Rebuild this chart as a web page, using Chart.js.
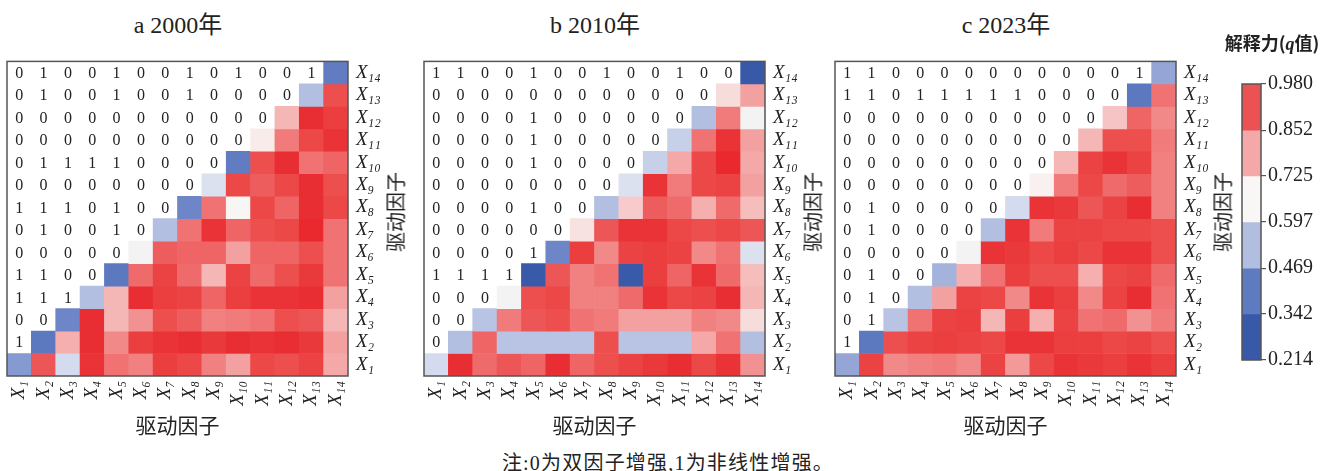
<!DOCTYPE html>
<html>
<head>
<meta charset="utf-8">
<script src="https://cdn.jsdelivr.net/npm/chart.js@4.4.1/dist/chart.umd.min.js"></script>
<style>
  body { margin: 0; width: 1337px; height: 471px; background: #fff; position: relative; overflow: hidden;
         font-family: "Liberation Serif", "Noto Sans CJK SC", serif; color: #222; }
  .box { position: absolute; }
  .ttl { position: absolute; top: 5px; font-size: 24px; transform: translateX(-50%); white-space: nowrap; }
  .ytl { position: absolute; font-family: "Noto Sans CJK SC", sans-serif; font-size: 20px;
         transform: translate(-50%, -50%) rotate(-90deg); white-space: nowrap; }
  .cbt { position: absolute; left: 1272px; top: 42px; transform: translate(-50%, -50%);
         font-family: "Noto Sans CJK SC", sans-serif; font-weight: bold; font-size: 18px; white-space: nowrap; }
  .cbt i { font-family: "Liberation Serif", serif; }
  .note { position: absolute; left: 668px; top: 461px; transform: translate(-50%, -50%);
          font-size: 20px; letter-spacing: 1.2px; white-space: nowrap; }
</style>
</head>
<body>
<div class="ttl" style="left:178px">a 2000年</div>
<div class="ttl" style="left:595px">b 2010年</div>
<div class="ttl" style="left:1006px">c 2023年</div>

<div class="box" style="left:5px;top:42px;width:393px;height:396px"><canvas id="cA"></canvas></div>
<div class="box" style="left:422px;top:42px;width:393px;height:396px"><canvas id="cB"></canvas></div>
<div class="box" style="left:833px;top:42px;width:393px;height:396px"><canvas id="cC"></canvas></div>
<div class="box" style="left:1240px;top:70px;width:97px;height:304px"><canvas id="cBar"></canvas></div>

<div class="ytl" style="left:395px;top:212px">驱动因子</div>
<div class="ytl" style="left:812px;top:212px">驱动因子</div>
<div class="ytl" style="left:1222px;top:212px">驱动因子</div>
<div class="cbt">解释力(<i>q</i>值)</div>
<div class="note">注:0为双因子增强,1为非线性增强。</div>

<script>
const factors = ['X1', 'X2', 'X3', 'X4', 'X5', 'X6', 'X7', 'X8', 'X9', 'X10', 'X11', 'X12', 'X13', 'X14'];

// q of Xi ∩ Xj, row Xi from column Xi to X14 (estimated from the colours)
const qA = [
  [0.46, 0.89, 0.57, 0.95, 0.85, 0.83, 0.93, 0.91, 0.83, 0.79, 0.91, 0.90, 0.92, 0.78],
  [0.40, 0.77, 0.96, 0.82, 0.93, 0.95, 0.96, 0.94, 0.96, 0.95, 0.96, 0.94, 0.79],
  [0.43, 0.96, 0.76, 0.81, 0.90, 0.88, 0.83, 0.84, 0.85, 0.90, 0.89, 0.76],
  [0.52, 0.76, 0.96, 0.93, 0.92, 0.87, 0.93, 0.95, 0.95, 0.96, 0.79],
  [0.40, 0.86, 0.92, 0.86, 0.76, 0.92, 0.86, 0.90, 0.94, 0.85],
  [0.64, 0.88, 0.87, 0.87, 0.79, 0.87, 0.87, 0.90, 0.85],
  [0.52, 0.85, 0.95, 0.87, 0.90, 0.91, 0.97, 0.85],
  [0.43, 0.85, 0.65, 0.91, 0.87, 0.96, 0.91],
  [0.58, 0.91, 0.88, 0.91, 0.96, 0.90],
  [0.41, 0.90, 0.96, 0.85, 0.87],
  [0.67, 0.84, 0.91, 0.95],
  [0.76, 0.96, 0.93],
  [0.52, 0.90],
  [0.41]
];
const qB = [
  [0.57, 0.96, 0.86, 0.89, 0.87, 0.96, 0.87, 0.90, 0.92, 0.94, 0.96, 0.91, 0.95, 0.81],
  [0.52, 0.87, 0.53, 0.53, 0.53, 0.53, 0.90, 0.53, 0.53, 0.53, 0.78, 0.85, 0.52],
  [0.53, 0.84, 0.89, 0.90, 0.85, 0.84, 0.79, 0.79, 0.79, 0.83, 0.82, 0.70],
  [0.64, 0.90, 0.91, 0.83, 0.83, 0.86, 0.95, 0.91, 0.92, 0.96, 0.76],
  [0.26, 0.89, 0.83, 0.85, 0.26, 0.93, 0.87, 0.95, 0.86, 0.75],
  [0.43, 0.93, 0.82, 0.92, 0.93, 0.92, 0.82, 0.85, 0.58],
  [0.69, 0.89, 0.95, 0.95, 0.91, 0.90, 0.91, 0.89],
  [0.52, 0.73, 0.88, 0.86, 0.77, 0.86, 0.75],
  [0.58, 0.95, 0.84, 0.91, 0.92, 0.79],
  [0.55, 0.78, 0.91, 0.97, 0.78],
  [0.55, 0.85, 0.95, 0.79],
  [0.52, 0.84, 0.64],
  [0.70, 0.79],
  [0.25]
];
const qC = [
  [0.48, 0.92, 0.82, 0.83, 0.84, 0.82, 0.92, 0.80, 0.91, 0.95, 0.94, 0.93, 0.95, 0.93],
  [0.40, 0.90, 0.92, 0.93, 0.92, 0.91, 0.95, 0.95, 0.93, 0.93, 0.91, 0.92, 0.90],
  [0.53, 0.85, 0.92, 0.93, 0.76, 0.93, 0.77, 0.92, 0.85, 0.86, 0.81, 0.84],
  [0.52, 0.79, 0.92, 0.91, 0.82, 0.95, 0.93, 0.82, 0.92, 0.96, 0.85],
  [0.50, 0.77, 0.85, 0.93, 0.90, 0.90, 0.77, 0.91, 0.92, 0.86],
  [0.64, 0.95, 0.94, 0.91, 0.93, 0.91, 0.95, 0.95, 0.90],
  [0.52, 0.95, 0.84, 0.92, 0.92, 0.91, 0.91, 0.90],
  [0.57, 0.95, 0.94, 0.89, 0.92, 0.96, 0.83],
  [0.66, 0.84, 0.91, 0.86, 0.88, 0.83],
  [0.76, 0.92, 0.95, 0.92, 0.83],
  [0.76, 0.90, 0.90, 0.84],
  [0.74, 0.87, 0.82],
  [0.40, 0.85],
  [0.48]
];

// interaction type, row X2..X14, columns X1..X(j-1)
const sigA = [
  [1],
  [0, 0],
  [1, 1, 1],
  [1, 1, 0, 0],
  [0, 0, 0, 0, 0],
  [0, 1, 0, 0, 1, 0],
  [1, 1, 1, 0, 1, 0, 0],
  [0, 0, 0, 0, 0, 0, 0, 0],
  [0, 1, 1, 1, 1, 0, 0, 0, 0],
  [0, 0, 0, 0, 0, 0, 0, 0, 0, 0],
  [0, 0, 0, 0, 0, 0, 0, 0, 0, 0, 0],
  [0, 1, 0, 0, 1, 0, 0, 1, 0, 0, 0, 0],
  [0, 1, 0, 0, 1, 0, 0, 1, 0, 1, 0, 0, 1]
];
const sigB = [
  [0],
  [0, 0],
  [0, 0, 0],
  [1, 1, 1, 1],
  [0, 0, 0, 0, 1],
  [0, 0, 0, 0, 0, 0],
  [0, 0, 0, 0, 1, 0, 0],
  [0, 0, 0, 0, 0, 0, 0, 0],
  [0, 0, 0, 0, 1, 0, 0, 0, 0],
  [0, 0, 0, 0, 1, 0, 0, 0, 0, 0],
  [0, 0, 0, 0, 1, 0, 0, 0, 0, 0, 0],
  [0, 0, 0, 0, 0, 0, 0, 0, 0, 0, 0, 0],
  [1, 1, 0, 0, 1, 0, 0, 1, 0, 0, 1, 0, 0]
];
const sigC = [
  [1],
  [0, 1],
  [0, 1, 0],
  [0, 1, 0, 0],
  [0, 0, 0, 0, 0],
  [0, 1, 0, 0, 0, 0],
  [0, 1, 0, 0, 0, 0, 0],
  [0, 0, 0, 0, 0, 0, 0, 0],
  [0, 0, 0, 0, 0, 0, 0, 0, 0],
  [0, 0, 0, 0, 0, 0, 0, 0, 0, 0],
  [0, 0, 0, 0, 0, 0, 0, 0, 0, 0, 0],
  [1, 1, 0, 1, 1, 1, 1, 1, 0, 0, 0, 0],
  [1, 1, 0, 0, 0, 0, 0, 0, 0, 0, 0, 0, 1]
];

const cbTicks = [0.214, 0.342, 0.469, 0.597, 0.725, 0.852, 0.980];
const cbColors = ['#3859a8', '#5d7bc0', '#b2bee0', '#f8f7f5', '#f5a8a8', '#ec5252'];

const cmapStops = [
  [0.214, [53, 87, 166]], [0.34, [63, 95, 174]], [0.42, [102, 128, 196]], [0.50, [164, 179, 220]],
  [0.58, [220, 225, 240]], [0.65, [248, 246, 244]], [0.72, [247, 210, 210]], [0.78, [244, 168, 168]],
  [0.85, [240, 114, 114]], [0.91, [236, 72, 72]], [0.98, [232, 36, 42]]
];
const cmap = v => {
  for (let i = 1; i < cmapStops.length; i++) {
    const [v1, c1] = cmapStops[i], [v0, c0] = cmapStops[i - 1];
    if (v <= v1 || i === cmapStops.length - 1) {
      const t = Math.max(0, Math.min(1, (v - v0) / (v1 - v0)));
      return `rgb(${c0.map((c, k) => Math.round(c + (c1[k] - c) * t)).join(',')})`;
    }
  }
};

const subs = '₀₁₂₃₄₅₆₇₈₉';
const tickText = f => 'X' + f.slice(1).split('').map(d => subs[d]).join('');

const matrixText = {
  id: 'matrixText',
  afterDatasetsDraw(chart, args, opts) {
    const { ctx, chartArea: a, scales: { x, y } } = chart;
    ctx.save();
    ctx.font = '16px "Liberation Serif"';
    ctx.fillStyle = '#222';
    ctx.textAlign = 'center';
    ctx.textBaseline = 'middle';
    (opts.sig || []).forEach((row, r) => row.forEach((v, c) => {
      ctx.fillText(String(v), x.getPixelForValue(c), y.getPixelForValue(r + 2) + 1);
    }));
    ctx.strokeStyle = '#555';
    ctx.lineWidth = 1.5;
    ctx.strokeRect(a.left, a.top, a.width, a.height);
    ctx.restore();
  }
};

const makeHeat = (id, q, sig) => {
  const cells = [];
  q.forEach((row, i) => row.forEach((v, k) => {
    cells.push({ x: factors[i + k], y: [i + 0.5, i + 1.5], q: v });
  }));
  new Chart(document.getElementById(id), {
    type: 'bar',
    data: {
      labels: factors,
      datasets: [{
        data: cells,
        backgroundColor: c => c.raw ? cmap(c.raw.q) : 'transparent',
        borderWidth: 0,
        barPercentage: 1,
        categoryPercentage: 1
      }]
    },
    options: {
      responsive: true,
      maintainAspectRatio: false,
      animation: false,
      layout: { autoPadding: false, padding: { left: 2, top: 2, right: 0, bottom: 0 } },
      plugins: { legend: { display: false }, tooltip: { enabled: false }, matrixText: { sig } },
      scales: {
        x: {
          type: 'category',
          grid: { display: false, drawTicks: false },
          border: { display: false },
          afterFit: s => { s.height = 62; },
          ticks: {
            autoSkip: false, minRotation: 90, maxRotation: 90, padding: 5,
            color: '#222', font: { family: '"Liberation Serif"', style: 'italic', size: 19 },
            callback: (v, i) => tickText(factors[i])
          },
          title: {
            display: true, text: '驱动因子', color: '#222', padding: 0,
            font: { family: '"Noto Sans CJK SC"', size: 21, lineHeight: 1.2 }
          }
        },
        y: {
          type: 'linear', position: 'right', min: 0.5, max: 14.5,
          grid: { display: false, drawTicks: false },
          border: { display: false },
          afterFit: s => { s.width = 50; },
          afterBuildTicks: s => { s.ticks = factors.map((f, i) => ({ value: i + 1 })); },
          ticks: {
            autoSkip: false, padding: 8, color: '#222',
            font: { family: '"Liberation Serif"', style: 'italic', size: 19 },
            callback: v => tickText(factors[v - 1])
          }
        }
      }
    },
    plugins: [matrixText]
  });
};

makeHeat('cA', qA, sigA);
makeHeat('cB', qB, sigB);
makeHeat('cC', qC, sigC);

new Chart(document.getElementById('cBar'), {
  type: 'bar',
  data: {
    labels: ['q'],
    datasets: [{
      data: cbColors.map((c, i) => ({ x: 'q', y: [cbTicks[i], cbTicks[i + 1]] })),
      backgroundColor: cbColors,
      borderWidth: 0,
      barPercentage: 1,
      categoryPercentage: 1
    }]
  },
  options: {
    responsive: true,
    maintainAspectRatio: false,
    animation: false,
    layout: { autoPadding: false, padding: { left: 2, top: 2, right: 0, bottom: 2 } },
    plugins: { legend: { display: false }, tooltip: { enabled: false }, matrixText: {} },
    scales: {
      x: { display: false },
      y: {
        type: 'linear', position: 'right', min: 0.214, max: 0.98,
        afterFit: s => { s.width = 76; },
        afterBuildTicks: s => { s.ticks = cbTicks.map(v => ({ value: v })); },
        grid: { display: true, drawOnChartArea: false, drawTicks: true, tickLength: 5, color: '#555', lineWidth: 1.2 },
        border: { display: false },
        ticks: {
          autoSkip: false, padding: 2, color: '#222',
          font: { family: '"Liberation Serif"', size: 20 },
          callback: v => v.toFixed(3)
        }
      }
    }
  },
  plugins: [matrixText]
});
</script>
</body>
</html>
